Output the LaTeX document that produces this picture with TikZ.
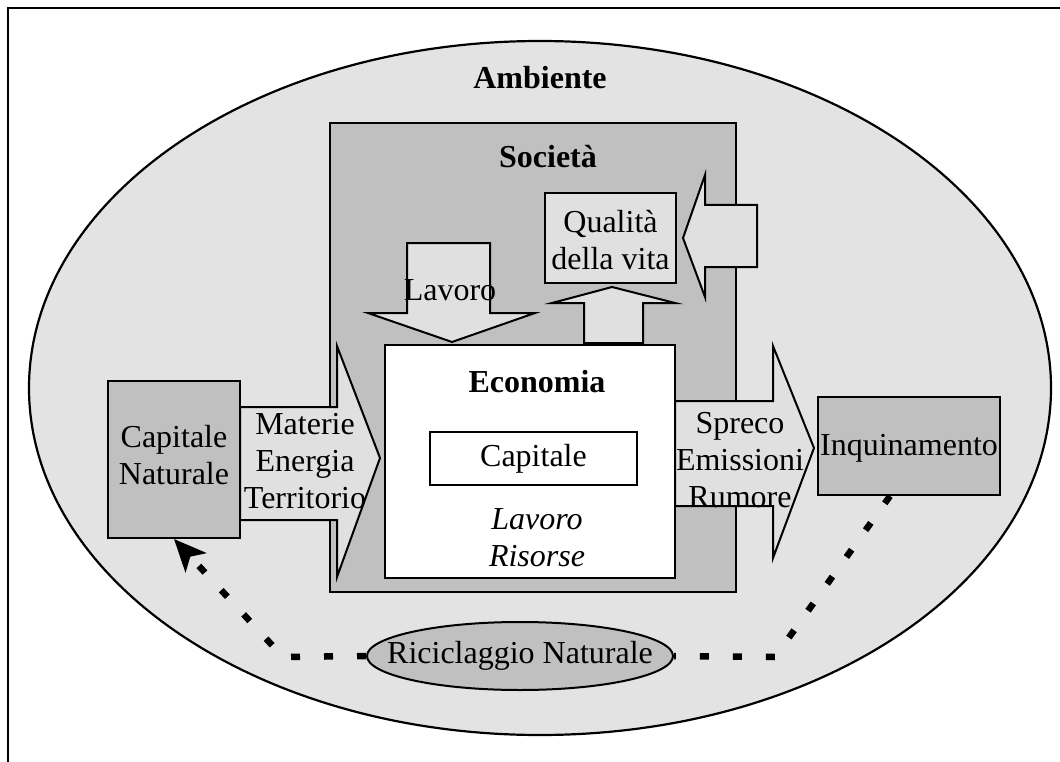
\documentclass[tikz,border=0pt]{standalone}
\usepackage{fontspec}
\setmainfont{Liberation Serif}
\usetikzlibrary{arrows.meta,shapes.geometric}
\definecolor{envgray}{HTML}{E3E3E3}
\definecolor{midgray}{HTML}{C0C0C0}
\definecolor{lightfill}{HTML}{E0E0E0}
\begin{document}
\begin{tikzpicture}[x=1pt,y=-1pt,
  txt/.style={font=\fontsize{32}{37}\selectfont, align=center, inner sep=0pt},
  boxline/.style={draw=black, line width=2pt, inner sep=0pt},
  blockarrow/.style={draw=black, line width=2pt, fill=lightfill, line join=miter},
  recycle/.style={line width=6.5pt, dash pattern=on 9pt off 24pt}]
\useasboundingbox (0,0) rectangle (1060,762);
\draw[line width=1.2pt] (8,762) -- (8,8) -- (1060,8);
% Ambiente
\node[ellipse, draw=black, line width=2.2pt, fill=envgray, minimum width=1022pt, minimum height=694pt, inner sep=0pt] (amb) at (540,388) {};
\node[txt, font=\fontsize{32}{37}\selectfont\bfseries] (ambt) at (540,78) {Ambiente};
% Societa
\node[boxline, line width=1.5pt, fill=midgray, minimum width=406pt, minimum height=469pt] (soc) at (533,357.5) {};
\node[txt, font=\fontsize{32}{37}\selectfont\bfseries] (soct) at (548,157) {Società};
% Economia
\node[boxline, fill=white, minimum width=290pt, minimum height=233pt] (eco) at (530,461.5) {};
\node[txt, font=\fontsize{32}{37}\selectfont\bfseries] (ecot) at (537,382) {Economia};
\node[boxline, fill=white, minimum width=207pt, minimum height=53pt] (cap) at (533.5,458.5) {};
\node[txt] (capt) at (533.5,458.5) {Capitale};
\node[txt, font=\fontsize{32}{37}\selectfont\itshape] (lr) at (537,538) {Lavoro\\Risorse};
% Block arrows
\draw[blockarrow] (240,407) -- (337,407) -- (337,346) -- (380,458) -- (337,577) -- (337,520) -- (240,520) -- cycle;
\node[txt] (mat) at (305,461) {Materie\\Energia\\Territorio};
\draw[blockarrow] (675,401) -- (773,401) -- (773,346) -- (814,448) -- (773,558) -- (773,506) -- (675,506) -- cycle;
\node[txt] (spr) at (740,460) {Spreco\\Emissioni\\Rumore};
\draw[blockarrow] (407,243) -- (490,243) -- (490,313) -- (535,313) -- (452,342) -- (368,313) -- (407,313) -- cycle;
\node[txt] (lav) at (450,290) {Lavoro};
\draw[blockarrow] (584,343) -- (584,303) -- (552,303) -- (612,287) -- (675,303) -- (643,303) -- (643,343) -- cycle;
\draw[blockarrow] (757,205) -- (705,205) -- (705,175) -- (683,238) -- (705,297) -- (705,267) -- (757,267) -- cycle;
% Qualita
\node[boxline, fill=lightfill, minimum width=131pt, minimum height=90pt] (qual) at (610.5,238) {};
\node[txt] (qualt) at (610.5,240) {Qualità\\della vita};
% Capitale Naturale
\node[boxline, fill=midgray, minimum width=132pt, minimum height=157pt] (capnat) at (174,459.5) {};
\node[txt] (capnatt) at (174,455) {Capitale\\Naturale};
% Inquinamento
\node[boxline, fill=midgray, minimum width=182pt, minimum height=98pt] (inq) at (909,446) {};
\node[txt] (inqt) at (909,448) {Inquinamento};
% Riciclaggio
\node[ellipse, draw=black, line width=2pt, fill=midgray, minimum width=306pt, minimum height=68pt, inner sep=0pt] (ric) at (520,656) {};
\node[txt] (rict) at (520,656) {Riciclaggio Naturale};
\coordinate (rr) at (775,657);
\coordinate (rl) at (283,657);
\draw[recycle] ([xshift=-19pt]inq.south) -- (rr) -- (ric.east);
\draw[recycle, -{Stealth[length=32pt,width=28pt,inset=8pt]}] (ric.west) -- (rl) -- (capnat.south);
\end{tikzpicture}
\end{document}
